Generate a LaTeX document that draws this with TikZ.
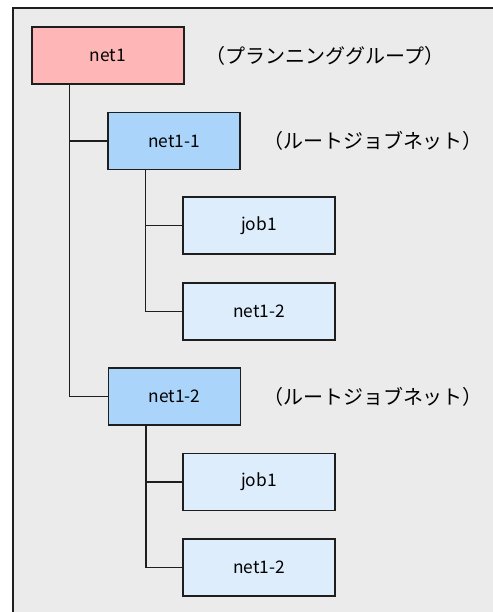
\documentclass[tikz,border=0pt]{standalone}
\usepackage{fontspec}
\setmainfont{Noto Sans CJK JP}
\definecolor{bgGray}{RGB}{235,235,235}
\definecolor{grpPink}{RGB}{255,182,182}
\definecolor{rootBlue}{RGB}{170,212,250}
\definecolor{unitBlue}{RGB}{221,237,252}
\definecolor{edgeGray}{RGB}{30,30,30}
\tikzset{every picture/.style={line width=0.75pt}}
\tikzset{
  unitbox/.style={draw=edgeGray, line width=1pt, inner sep=0pt, font=\fontsize{13}{15}\selectfont},
  grpbox/.style={unitbox, fill=grpPink, minimum width=114pt, minimum height=42.75pt},
  rootbox/.style={unitbox, fill=rootBlue, minimum width=99pt, minimum height=42.75pt},
  leafbox/.style={unitbox, fill=unitBlue, minimum width=114pt, minimum height=42.75pt},
  notetext/.style={inner sep=0pt, font=\fontsize{15}{17}\selectfont},
  tree/.style={draw=edgeGray, line width=1pt}
}

\begin{document}
\begin{tikzpicture}[x=0.75pt,y=0.75pt,yscale=-1,xscale=1]
        \useasboundingbox (0,0) rectangle (493,612);

        %Frame
        \draw[draw=edgeGray, fill=bgGray, line width=1pt] (13,8) rectangle (500,620);

        %Boxes
        \node[grpbox] (net1) at (108,55.5) {net1};
        \node[rootbox] (net11) at (174,141) {net1-1};
        \node[leafbox] (job1a) at (259,225.5) {job1};
        \node[leafbox] (net12a) at (259,311.5) {net1-2};
        \node[rootbox] (net12) at (174.5,396.5) {net1-2};
        \node[leafbox] (job1b) at (259,482) {job1};
        \node[leafbox] (net12b) at (259,567.5) {net1-2};

        %Notes
        \node[notetext] (grpnote) at (325,55.5) {（プランニンググループ）};
        \node[notetext] (rootnote1) at (373,141) {（ルートジョブネット）};
        \node[notetext] (rootnote2) at (373,397) {（ルートジョブネット）};

        %Tree lines
        \draw[tree] (net11.west) -| ([xshift=28.5pt]net1.south west);
        \draw[tree] (net12.west) -| ([xshift=28.5pt]net1.south west);
        \draw[tree] (job1a.west) -| ([xshift=28.5pt]net11.south west);
        \draw[tree] (net12a.west) -| ([xshift=28.5pt]net11.south west);
        \draw[tree] (job1b.west) -| ([xshift=28.5pt]net12.south west);
        \draw[tree] (net12b.west) -| ([xshift=28.5pt]net12.south west);

\end{tikzpicture}
\end{document}
